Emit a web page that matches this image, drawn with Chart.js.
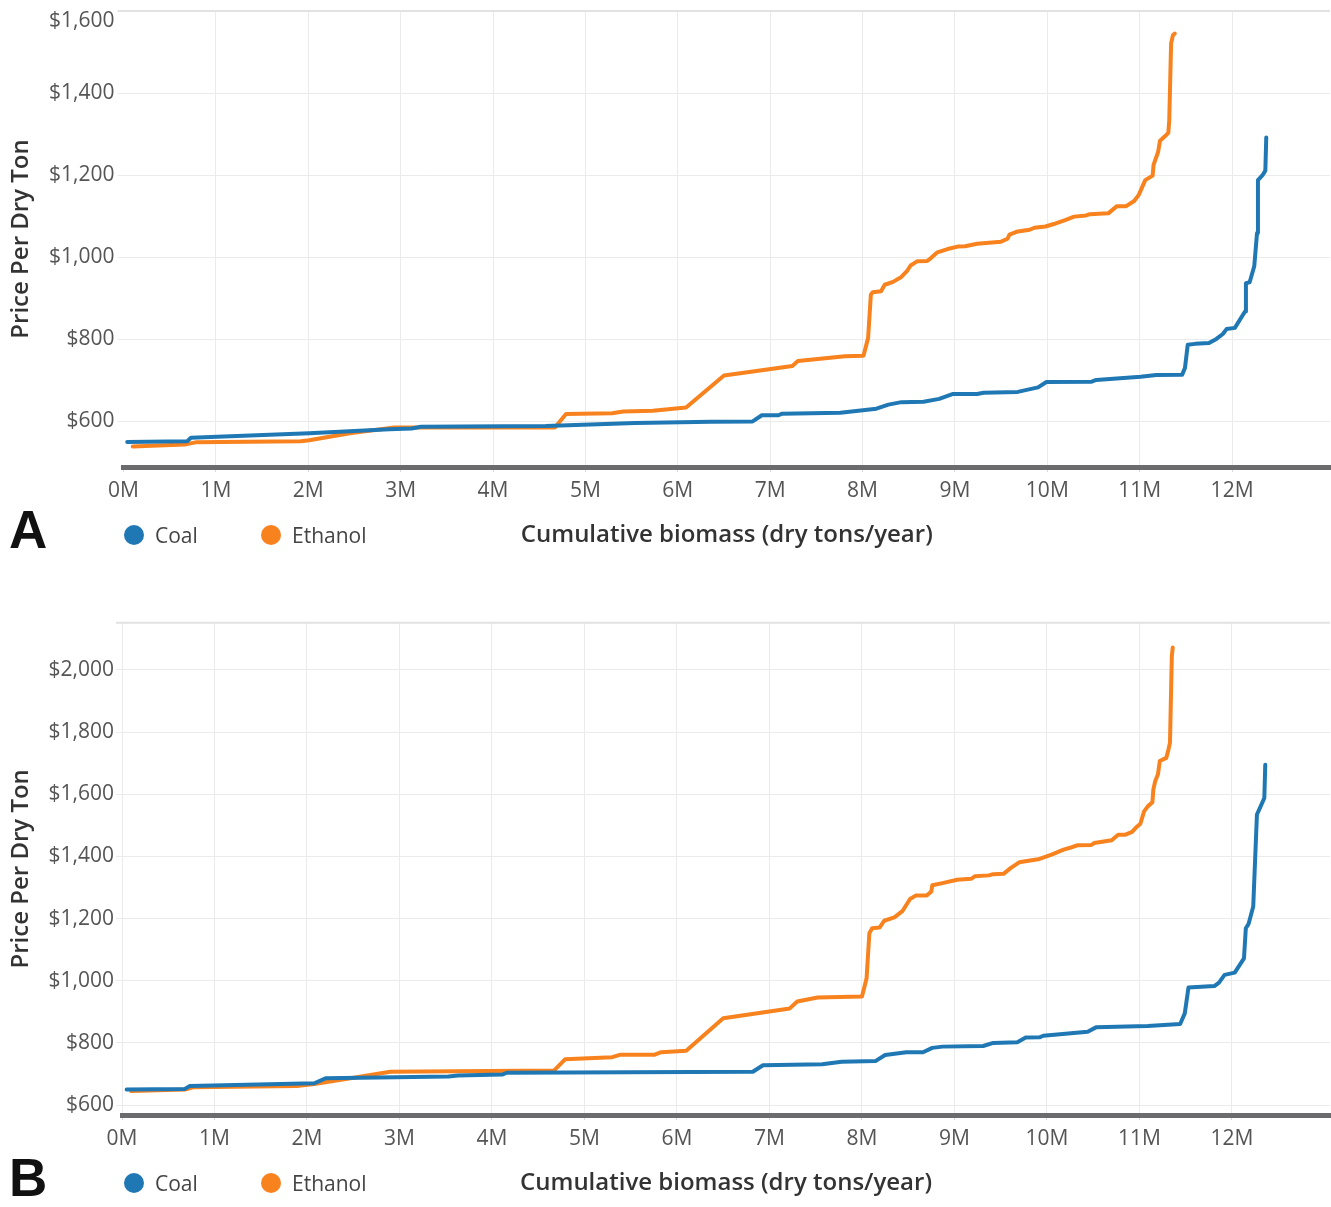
<!DOCTYPE html>
<html>
<head>
<meta charset="utf-8">
<title>Biomass supply curves</title>
<script src="https://cdn.jsdelivr.net/npm/chart.js@4.4.1/dist/chart.umd.min.js"></script>
<style>
  html, body { margin: 0; padding: 0; background: #fff; }
  #page { position: relative; width: 1331px; height: 1207px; overflow: hidden; font-family: 'Open Sans', sans-serif; }
  #page canvas { position: absolute; left: 0; }
  .tag { position: absolute; left: 9px; font: bold 53px 'Liberation Sans', Arial, sans-serif; line-height: 1; color: #111; }
  .legend-item { position: absolute; display: flex; align-items: center; height: 24px; font-size: 21px; color: #444; }
  .legend-item .dot { width: 20px; height: 20px; border-radius: 50%; margin-right: 11px; }
</style>
</head>
<body>
<div id="page">
  <canvas id="chart-a" width="1331" height="560" style="top:0"></canvas>
  <canvas id="chart-b" width="1331" height="608" style="top:600px"></canvas>

  <div class="tag" style="top:503px">A</div>
  <div class="legend-item" style="left:124px; top:523px"><span class="dot" style="background:#1f78b4"></span>Coal</div>
  <div class="legend-item" style="left:261px; top:523px"><span class="dot" style="background:#f7821e"></span>Ethanol</div>

  <div class="tag" style="top:1151px">B</div>
  <div class="legend-item" style="left:124px; top:1171px"><span class="dot" style="background:#1f78b4"></span>Coal</div>
  <div class="legend-item" style="left:261px; top:1171px"><span class="dot" style="background:#f7821e"></span>Ethanol</div>
</div>

<script>
// tick labels
const X_TICKS = [0, 1, 2, 3, 4, 5, 6, 7, 8, 9, 10, 11, 12];          // millions of dry tons
const Y_TICKS_A = [600, 800, 1000, 1200, 1400, 1600];
const Y_TICKS_B = [600, 800, 1000, 1200, 1400, 1600, 1800, 2000];

// Panel A - coal (cumulative biomass in M dry tons, price $/dry ton)
const COAL_A_X = [0.04, 0.69, 0.73, 2.01, 2.88, 3.12, 3.22, 4.57, 5.54, 6.36, 6.81, 6.91, 7.09, 7.13, 7.76,
  8.15, 8.28, 8.42, 8.66, 8.83, 8.98, 9.24, 9.31, 9.68, 9.90, 9.99, 10.48, 10.53, 11.01, 11.18, 11.46,
  11.49, 11.52, 11.60, 11.75, 11.83, 11.90, 11.94, 12.03, 12.14, 12.15, 12.19, 12.24, 12.27, 12.28,
  12.33, 12.36, 12.37];
const COAL_A_Y = [550, 552, 560, 571, 581, 583, 587, 589, 596, 599, 600, 615, 615, 619, 621,
  631, 641, 647, 648, 655, 667, 667, 670, 672, 683, 696, 697, 701, 709, 713, 714,
  730, 787, 789, 791, 801, 813, 825, 828, 868, 937, 939, 978, 1059, 1188,
  1200, 1211, 1292];

// Panel A - ethanol
const ETH_A_X = [0.10, 0.66, 0.78, 1.92, 2.01, 2.45, 2.93, 4.67, 4.79, 5.29, 5.41, 5.73, 6.09, 6.50,
  7.24, 7.30, 7.81, 8.01, 8.06, 8.09, 8.11, 8.20, 8.24, 8.33, 8.42, 8.48, 8.52, 8.59, 8.70, 8.74,
  8.81, 8.92, 9.03, 9.11, 9.24, 9.50, 9.57, 9.59, 9.68, 9.81, 9.86, 9.98, 10.07, 10.20, 10.29,
  10.42, 10.46, 10.66, 10.75, 10.85, 10.94, 10.99, 11.06, 11.14, 11.15, 11.20, 11.22, 11.27,
  11.31, 11.32, 11.34, 11.36, 11.38];
const ETH_A_Y = [539, 544, 549, 552, 554, 571, 585, 585, 618, 620, 624, 626, 634, 712,
  735, 747, 759, 760, 803, 909, 915, 917, 933, 940, 952, 966, 980, 990, 991, 998,
  1012, 1020, 1026, 1027, 1033, 1038, 1045, 1055, 1063, 1067, 1072, 1075, 1081, 1091, 1099,
  1102, 1105, 1107, 1124, 1124, 1137, 1152, 1188, 1199, 1225, 1257, 1284, 1294,
  1303, 1334, 1521, 1541, 1545];

// Panel B - coal
const COAL_B_X = [0.05, 0.68, 0.73, 2.08, 2.20, 3.53, 3.63, 4.11, 4.16, 6.82, 6.93, 7.57, 7.78, 8.15,
  8.25, 8.48, 8.66, 8.76, 8.87, 9.31, 9.42, 9.68, 9.77, 9.92, 9.96, 10.44, 10.53, 11.09, 11.44,
  11.49, 11.53, 11.81, 11.86, 11.92, 12.03, 12.13, 12.15, 12.18, 12.23, 12.27, 12.31, 12.35, 12.36];
const COAL_B_Y = [650, 652, 661, 670, 686, 692, 695, 698, 704, 707, 728, 731, 739, 742,
  761, 770, 770, 784, 788, 790, 800, 802, 817, 818, 823, 836, 850, 854, 861,
  895, 978, 983, 994, 1019, 1026, 1072, 1169, 1183, 1239, 1535, 1561, 1588, 1695];

// Panel B - ethanol
const ETH_B_X = [0.10, 0.68, 0.77, 1.89, 2.08, 2.47, 2.90, 4.67, 4.79, 5.30, 5.39, 5.76, 5.83, 6.10,
  6.50, 7.22, 7.30, 7.52, 8.00, 8.05, 8.08, 8.11, 8.19, 8.24, 8.35, 8.44, 8.52, 8.58, 8.70, 8.75,
  8.76, 8.87, 9.03, 9.18, 9.22, 9.37, 9.42, 9.53, 9.61, 9.70, 9.92, 10.05, 10.18, 10.24, 10.33,
  10.48, 10.51, 10.70, 10.77, 10.85, 10.92, 10.96, 11.01, 11.05, 11.09, 11.14, 11.15, 11.17,
  11.20, 11.22, 11.29, 11.31, 11.33, 11.35, 11.36];
const ETH_B_Y = [645, 650, 657, 661, 668, 686, 707, 711, 747, 754, 762, 762, 770, 775,
  879, 911, 933, 946, 949, 1008, 1153, 1169, 1171, 1193, 1204, 1225, 1263, 1274, 1274, 1287,
  1307, 1314, 1325, 1328, 1336, 1339, 1343, 1344, 1363, 1381, 1392, 1406, 1422, 1427, 1436,
  1437, 1443, 1452, 1470, 1470, 1479, 1492, 1505, 1545, 1561, 1574, 1615, 1642,
  1664, 1707, 1717, 1739, 1766, 2045, 2072];

const COLORS = { coal: '#1f78b4', ethanol: '#f7821e', grid: '#ebebeb', tick: '#d9d9d9', axis: '#6b6b6d' };
const TICK_FONT = { family: "'Open Sans', sans-serif", size: 21, lineHeight: 1 };
const TITLE_FONT = { family: "'Open Sans', sans-serif", size: 24, weight: '600' };

const toPoints = (xs, ys) => xs.map((x, i) => ({ x, y: ys[i] }));
const money = v => '$' + v.toLocaleString('en-US');

// thin line along the top of the plot area
const topFrame = {
  id: 'topFrame',
  beforeDatasetsDraw(chart) {
    const { ctx, chartArea } = chart;
    ctx.save();
    ctx.strokeStyle = '#e2e2e2';
    ctx.lineWidth = 2;
    ctx.beginPath();
    ctx.moveTo(chartArea.left - 6, chartArea.top);
    ctx.lineTo(chartArea.right, chartArea.top);
    ctx.stroke();
    ctx.restore();
  }
};

function buildChart(id, p) {
  const el = document.getElementById(id);
  return new Chart(el.getContext('2d'), {
    type: 'line',
    data: {
      datasets: [
        {
          label: 'Coal',
          data: toPoints(p.coalX, p.coalY),
          borderColor: COLORS.coal,
          backgroundColor: COLORS.coal,
          order: 0
        },
        {
          label: 'Ethanol',
          data: toPoints(p.ethX, p.ethY),
          borderColor: COLORS.ethanol,
          backgroundColor: COLORS.ethanol,
          order: 1
        }
      ]
    },
    options: {
      responsive: false,
      animation: false,
      elements: {
        line: { borderWidth: 4, tension: 0, fill: false, borderJoinStyle: 'round', borderCapStyle: 'round' },
        point: { radius: 0, hoverRadius: 0 }
      },
      layout: { padding: { top: p.top, right: 1, bottom: 0, left: 0 } },
      scales: {
        x: {
          type: 'linear',
          min: 0,
          max: 13.06,
          afterBuildTicks: s => { s.ticks = X_TICKS.map(v => ({ value: v })); },
          afterFit: s => { s.height = 93; },
          grid: {
            color: c => (p.zeroGrid || c.tick.value !== 0) ? COLORS.grid : 'rgba(0,0,0,0)',
            tickColor: COLORS.tick,
            tickLength: 5,
            lineWidth: 1
          },
          border: { display: true, color: COLORS.axis, width: 5 },
          ticks: {
            padding: 8.5,
            maxRotation: 0,
            color: '#555',
            font: TICK_FONT,
            callback: v => `${v}M`
          },
          title: {
            display: true,
            text: 'Cumulative biomass (dry tons/year)',
            color: '#333',
            font: TITLE_FONT,
            padding: { top: 0, bottom: 10.6 }
          }
        },
        y: {
          min: p.yMin,
          max: p.yMax,
          afterBuildTicks: s => { s.ticks = p.yTicks.map(v => ({ value: v })); },
          afterFit: s => { s.width = p.left; s.paddingTop = 0; },
          grid: { color: COLORS.grid, tickColor: COLORS.grid, tickLength: 6, lineWidth: 1 },
          border: { display: false },
          ticks: {
            padding: p.yPad,
            color: '#555',
            font: TICK_FONT,
            // the label at the very top edge sits just below its grid line
            callback: v => (v === p.yMax ? ['', money(v)] : money(v))
          },
          title: {
            display: true,
            text: 'Price Per Dry Ton',
            color: '#333',
            font: TITLE_FONT,
            padding: { top: 6.6, bottom: 0 }
          }
        }
      },
      plugins: {
        legend: { display: false },
        tooltip: { enabled: false }
      }
    },
    plugins: [topFrame]
  });
}

const chartA = buildChart('chart-a', {
  coalX: COAL_A_X, coalY: COAL_A_Y, ethX: ETH_A_X, ethY: ETH_A_Y,
  yTicks: Y_TICKS_A, yMin: 489, yMax: 1600, top: 11, left: 123.5, yPad: 3, zeroGrid: false
});

const chartB = buildChart('chart-b', {
  coalX: COAL_B_X, coalY: COAL_B_Y, ethX: ETH_B_X, ethY: ETH_B_Y,
  yTicks: Y_TICKS_B, yMin: 568, yMax: 2152, top: 22.7, left: 122, yPad: 2, zeroGrid: true
});
</script>
</body>
</html>
